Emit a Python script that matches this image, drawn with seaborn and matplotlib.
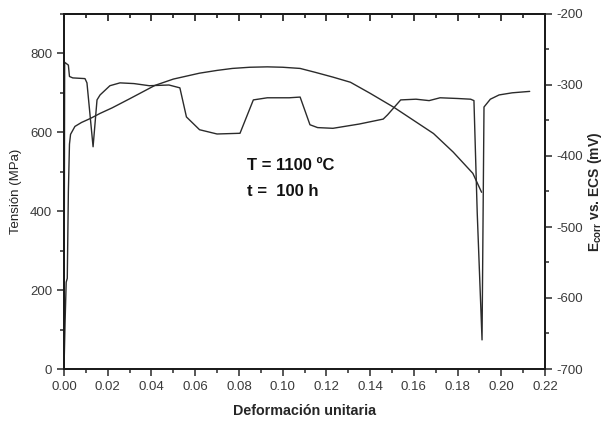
import matplotlib
matplotlib.use('Agg')
import matplotlib.pyplot as plt
from matplotlib.ticker import MultipleLocator, FormatStrFormatter, NullFormatter
import seaborn as sns

# stress-strain curve (left axis)
strain_s = [0.0, 0.0005, 0.001, 0.0015, 0.002, 0.0025, 0.003, 0.005, 0.008, 0.012, 0.0165,
            0.022, 0.030, 0.0416, 0.050, 0.062, 0.070, 0.077, 0.085, 0.093, 0.100, 0.108,
            0.115, 0.123, 0.131, 0.140, 0.151, 0.160, 0.169, 0.178, 0.187, 0.191]
stress = [0, 120, 220, 230, 450, 570, 595, 615, 625, 635, 648,
          662, 685, 719, 735, 750, 757, 762, 765, 766, 765, 762,
          752, 740, 727, 699, 663, 630, 597, 550, 496, 448]

# corrosion potential (right axis)
strain_e = [0.0, 0.0003, 0.002, 0.0025, 0.004, 0.0096, 0.0105, 0.0133, 0.0151, 0.0165, 0.021,
            0.0256, 0.032, 0.039, 0.048, 0.053, 0.056, 0.062, 0.070, 0.0805, 0.0866, 0.093,
            0.103, 0.108, 0.1125, 0.116, 0.123, 0.135, 0.146, 0.148, 0.154, 0.161, 0.167,
            0.172, 0.180, 0.186, 0.1875, 0.189, 0.1912, 0.1921, 0.195, 0.199, 0.205, 0.213]
ecorr = [-690, -268, -272, -288, -290, -291, -297, -387, -321, -314, -301,
         -297, -298, -301, -300, -304, -345, -363, -369, -368, -321, -318,
         -318, -317, -356, -360, -361, -355, -348, -342, -321, -320, -322,
         -318, -319, -320, -322, -480, -659, -331, -320, -314, -311, -309]

sns.set_style('ticks')
plt.rcParams['font.family'] = ['Liberation Sans', 'DejaVu Sans']
plt.rcParams['axes.unicode_minus'] = False
plt.rcParams['mathtext.fontset'] = 'custom'
plt.rcParams['mathtext.bf'] = 'Liberation Sans:bold'
plt.rcParams['mathtext.rm'] = 'Liberation Sans'

line_col = '#2b2b2b'
tick_col = '#3a3a3a'
tick_size = 9.5

fig = plt.figure(figsize=(6.07, 4.23), dpi=100)
ax = fig.add_axes([64 / 607, 54 / 423, 481 / 607, 355 / 423])
ax2 = ax.twinx()

sns.lineplot(x=strain_s, y=stress, ax=ax, sort=False, estimator=None, color=line_col, linewidth=1.0)
sns.lineplot(x=strain_e, y=ecorr, ax=ax2, sort=False, estimator=None, color=line_col, linewidth=1.0)

ax.set_xlim(0, 0.22)
ax.set_ylim(0, 900)
ax2.set_ylim(-700, -200)

ax.xaxis.set_major_locator(MultipleLocator(0.02))
ax.xaxis.set_minor_locator(MultipleLocator(0.01))
ax.xaxis.set_major_formatter(FormatStrFormatter('%.2f'))
ax.yaxis.set_major_locator(MultipleLocator(200))
ax.yaxis.set_minor_locator(MultipleLocator(100))
ax2.yaxis.set_major_locator(MultipleLocator(100))
ax2.yaxis.set_minor_locator(MultipleLocator(50))

for a, axis in ((ax, 'x'), (ax, 'y'), (ax2, 'y')):
    a.tick_params(axis=axis, which='both', direction='out', labelsize=tick_size, colors=tick_col, width=1.2)
    a.tick_params(axis=axis, which='major', length=5)
    a.tick_params(axis=axis, which='minor', length=3)

# top ticks point inward
top = ax.secondary_xaxis('top')
top.xaxis.set_major_locator(MultipleLocator(0.02))
top.xaxis.set_minor_locator(MultipleLocator(0.01))
top.xaxis.set_major_formatter(NullFormatter())
top.tick_params(which='both', direction='in', width=1.2, colors='#1a1a1a')
top.tick_params(which='major', length=5)
top.tick_params(which='minor', length=3)
top.spines['top'].set_linewidth(1.3)

for a in (ax, ax2):
    for s in a.spines.values():
        s.set_linewidth(1.3)
        s.set_color('#1a1a1a')

ax.set_xlabel('Deformación unitaria', fontsize=10.3, fontweight='bold', labelpad=8)
ax.set_ylabel('Tensión (MPa)', fontsize=9.5, color='#222222', labelpad=6)
ax2.set_ylabel(r'$\mathbf{E_{corr}}$ vs. ECS (mV)', fontsize=10, fontweight='bold', labelpad=2)

ax.text(0.0837, 516, 'T = 1100 ºC', fontsize=12, fontweight='bold', va='center', ha='left', color='#111111')
ax.text(0.0837, 451, 't =  100 h', fontsize=12, fontweight='bold', va='center', ha='left', color='#111111')

fig.savefig('out.png', dpi=100)
